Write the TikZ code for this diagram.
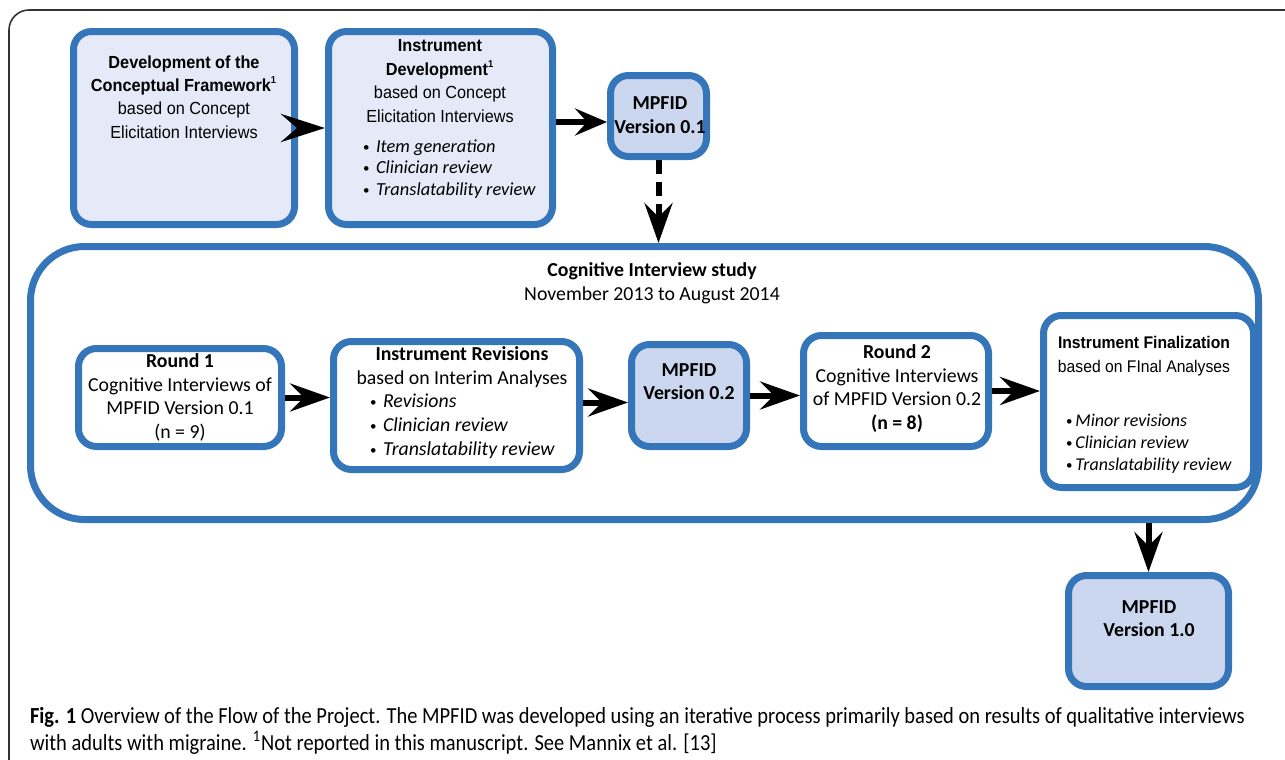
\documentclass[tikz,border=0pt]{standalone}
\usepackage{fontspec}
\setmainfont{Carlito}
\newfontfamily\arialf[FakeStretch=0.93]{Liberation Sans}
\newfontfamily\capf[FakeStretch=0.89]{Carlito}
\usetikzlibrary{arrows.meta}
\definecolor{boxblue}{HTML}{3575BA}
\definecolor{lavender}{HTML}{E6E9F8}
\definecolor{mpfid}{HTML}{CAD7EE}
\newcommand{\bul}[1]{\makebox[#1][l]{\raisebox{0.6pt}{\fontsize{6.5}{6.5}\selectfont\textbullet}}}

\begin{document}
\begin{tikzpicture}	[
		x = 0.5pt,
		y = -0.5pt,
		b/.style = {
			draw = boxblue,
			line width = 3.5pt,
			rounded corners = 9pt,
			inner sep = 0pt
		},
		arr/.style = {
			line width = 3pt,
			-{Stealth[length=20pt, width=14pt, inset=7pt]}
		},
		t/.style = {
			align = center,
			font = \fontsize{9.9}{11.8}\selectfont
		},
		a/.style = {
			align = center,
			font = \arialf\fontsize{8.75}{11.7}\selectfont
		},
		l/.style = {
			anchor = west,
			align = left
		}
	]
	\useasboundingbox (0,0) rectangle (1285,760);
	\draw [line width=0.8pt, draw=black!80, rounded corners=10pt] (1285,10) -- (9,10) -- (9,760);

	% top row
	\node [b, fill=lavender, minimum width=110.5pt, minimum height=96.5pt] (concept) at (184,128) {};
	\node [a] (concepttxt) at (184,97) {\bfseries Development of the\\ \bfseries Conceptual Framework\textsuperscript{\tiny 1}\\ based on Concept\\ Elicitation Interviews};

	\node [b, fill=lavender, minimum width=112pt, minimum height=96.5pt] (instdev) at (440.5,128) {};
	\node [a] (instdevtxt) at (440,81) {\bfseries Instrument\\ \bfseries Development\textsuperscript{\tiny 1}\\ based on Concept\\ Elicitation Interviews};
	\node [l, font=\fontsize{9.2}{10.75}\selectfont] (instdevlist) at (356,169) {\bul{6.5pt}\textit{Item generation}\\ \bul{6.5pt}\textit{Clinician review}\\ \bul{6.5pt}\textit{Translatability review}};

	\node [b, fill=mpfid, minimum width=48pt, minimum height=40.5pt] (v01) at (658.5,116) {};
	\node [t, font=\bfseries\fontsize{9.9}{12}\selectfont] (v01txt) at (660,115) {MPFID\\ Version 0.1};

	% cognitive interview study
	\node [b, fill=white, rounded corners=27pt, minimum width=614pt, minimum height=136.5pt] (cis) at (644.5,383) {};
	\node [t, font=\fontsize{9.9}{12}\selectfont] (cistxt) at (652,283) {\bfseries Cognitive Interview study\\ November 2013 to August 2014};

	\node [b, fill=white, minimum width=101.5pt, minimum height=49pt] (round1) at (180,397.5) {};
	\node [t] (round1txt) at (180,397.5) {\bfseries Round 1\\ Cognitive Interviews of\\ MPFID Version 0.1\\ (n = 9)};

	\node [b, fill=white, minimum width=123pt, minimum height=64pt] (revis) at (456.5,405.5) {};
	\node [t, font=\fontsize{9.9}{12}\selectfont] (revistxt) at (462,367) {\bfseries Instrument Revisions\\ based on Interim Analyses};
	\node [l, font=\fontsize{9.9}{12}\selectfont] (revislist) at (363,426) {\bul{6.5pt}\textit{Revisions}\\ \bul{6.5pt}\textit{Clinician review}\\ \bul{6.5pt}\textit{Translatability review}};

	\node [b, fill=mpfid, minimum width=57.5pt, minimum height=51pt] (v02) at (689,395.5) {};
	\node [t, font=\bfseries\fontsize{9.9}{11.7}\selectfont] (v02txt) at (689,381.5) {MPFID\\ Version 0.2};

	\node [b, fill=white, minimum width=92.5pt, minimum height=55.5pt] (round2) at (896,391) {};
	\node [t] (round2txt) at (897,388.5) {\bfseries Round 2\\ Cognitive Interviews\\ of MPFID Version 0.2\\ \bfseries (n = 8)};

	\node [b, fill=white, minimum width=105pt, minimum height=86pt] (final) at (1148.5,401.5) {};
	\node [a, font=\arialf\fontsize{8.45}{12}\selectfont] (finaltxt) at (1144,356) {\bfseries Instrument Finalization\\ based on FInal Analyses};
	\node [l, font=\fontsize{9}{11}\selectfont] (finallist) at (1059,444) {\bul{4.7pt}\textit{Minor revisions}\\ \bul{4.7pt}\textit{Clinician review}\\ \bul{4.7pt}\textit{Translatability review}};

	\node [b, fill=mpfid, minimum width=80pt, minimum height=55.5pt] (v10) at (1148.5,631) {};
	\node [t, font=\bfseries\fontsize{9.9}{11.7}\selectfont] (v10txt) at (1149,618.5) {MPFID\\ Version 1.0};

	% arrows
	\draw [arr, -{Stealth[length=22pt, width=14pt, inset=8pt]}] (concept.east) -- (instdev.west);
	\draw [arr, -{Stealth[length=16pt, width=13.5pt, inset=6pt]}] ([yshift=3pt]instdev.east) -- ([yshift=3pt]instdev.east -| v01.west);
	\draw [arr, dash pattern=on 7pt off 4pt] (v01.south) -- (v01.south |- cis.north);
	\draw [arr] (round1.east) -- (round1.east -| revis.west);
	\draw [arr] ([yshift=1.5pt]revis.east) -- ([yshift=1.5pt]revis.east -| v02.west);
	\draw [arr] (v02.east) -- (v02.east -| round2.west);
	\draw [arr] (round2.east) -- (round2.east -| final.west);
	\draw [arr] (v10.north |- cis.south) -- (v10.north);

	% caption
	\node [anchor=west, align=left, font=\capf\fontsize{11.5}{13.5}\selectfont] (caption) at (23,730.5) {\textbf{Fig. 1} Overview of the Flow of the Project. The MPFID was developed using an iterative process primarily based on results of qualitative interviews\\ with adults with migraine. \textsuperscript{1}Not reported in this manuscript. See Mannix et al. [13]};
\end{tikzpicture}
\end{document}
